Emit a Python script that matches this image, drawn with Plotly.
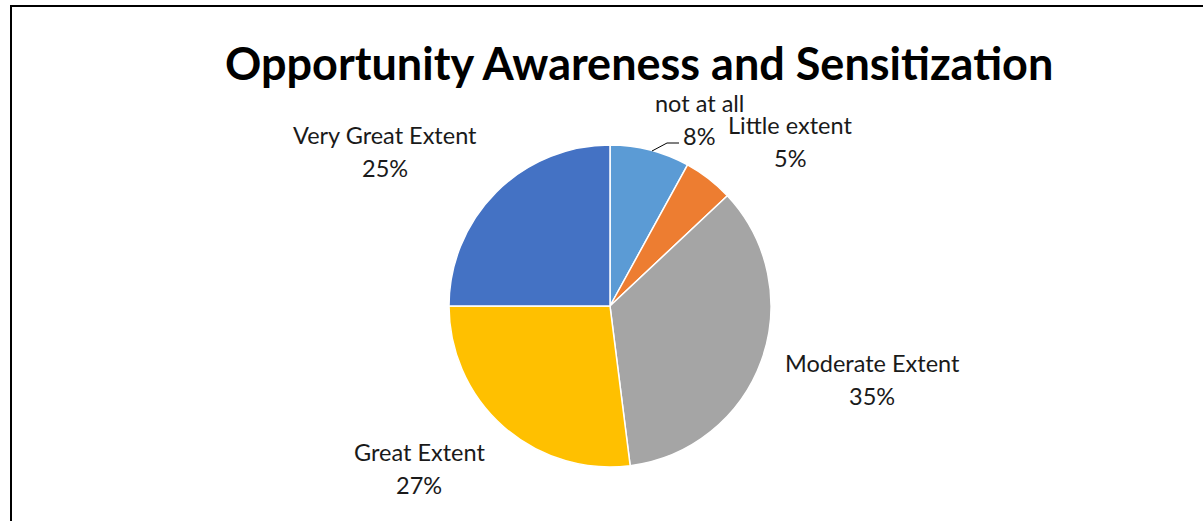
import plotly.graph_objects as go

categories = ["not at all", "Little extent", "Moderate Extent", "Great Extent", "Very Great Extent"]
values = [8, 5, 35, 27, 25]
colors = ["#5B9BD5", "#ED7D31", "#A5A5A5", "#FFC000", "#4472C4"]
title = "Opportunity Awareness and Sensitization"

W, H = 1203, 521
cx, cy, r = 610, 306, 161

# label centers (pixels) for category name line; percent line sits 33px below
label_pos = [(699, 103), (790, 125), (872, 363), (419, 452), (385, 135)]

def px(x):
    return x / W

def py(y):
    return 1 - y / H

fig = go.Figure(go.Pie(
    labels=categories,
    values=values,
    sort=False,
    direction="clockwise",
    rotation=0,
    textinfo="none",
    hoverinfo="label+percent",
    marker=dict(colors=colors, line=dict(color="white", width=1.5)),
    domain=dict(x=[px(cx - r), px(cx + r)], y=[py(cy + r), py(cy - r)]),
    showlegend=False,
))

font_lbl = dict(family="Lato", size=23.5, color="#1a1a1a")
ann = []
for (lx, ly), cat, v in zip(label_pos, categories, values):
    ann.append(dict(x=px(lx), y=py(ly), xref="paper", yref="paper", text=cat,
                    showarrow=False, font=font_lbl, xanchor="center", yanchor="middle"))
    ann.append(dict(x=px(lx), y=py(ly + 33), xref="paper", yref="paper", text=f"{v}%",
                    showarrow=False, font=font_lbl, xanchor="center", yanchor="middle"))

ann.append(dict(x=px(639), y=py(63), xref="paper", yref="paper", text=f"<b>{title}</b>",
                showarrow=False, font=dict(family="Lato", size=45, color="black"),
                xanchor="center", yanchor="middle"))

shapes = [
    dict(type="path", xref="paper", yref="paper",
         path=f"M {px(11)} {py(530)} L {px(11)} {py(6)} L {px(1210)} {py(6)}",
         line=dict(color="black", width=2)),
    dict(type="path", xref="paper", yref="paper",
         path=f"M {px(652)} {py(151)} L {px(667)} {py(143)} L {px(679)} {py(143)}",
         line=dict(color="black", width=1)),
]

fig.update_layout(
    width=W, height=H,
    margin=dict(l=0, r=0, t=0, b=0),
    paper_bgcolor="white", plot_bgcolor="white",
    annotations=ann, shapes=shapes,
)

fig.write_html("out.html")
